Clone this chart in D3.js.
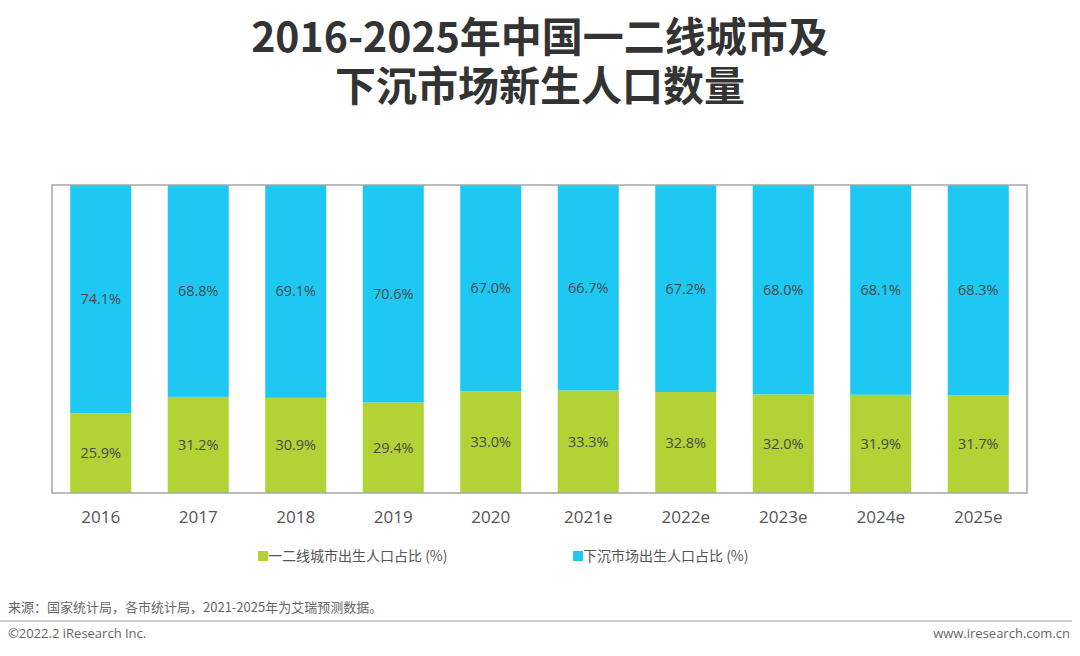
<!DOCTYPE html>
<html>
<head>
<meta charset="utf-8">
<script src="https://cdn.jsdelivr.net/npm/d3@7"></script>
<style>
  body { margin: 0; background: #fff; }
  text { font-family: "Open Sans", "Noto Sans CJK SC", sans-serif; }
</style>
</head>
<body>
<div id="container"></div>
<script>
// data
const years = ["2016", "2017", "2018", "2019", "2020", "2021e", "2022e", "2023e", "2024e", "2025e"];
const tier12 = [25.9, 31.2, 30.9, 29.4, 33.0, 33.3, 32.8, 32.0, 31.9, 31.7];
const lower = [74.1, 68.8, 69.1, 70.6, 67.0, 66.7, 67.2, 68.0, 68.1, 68.3];
const seriesNames = ["一二线城市出生人口占比 (%)", "下沉市场出生人口占比 (%)"];
const colors = ["#B2D235", "#1FC8F2"];

const width = 1080, height = 656;
const plot = { left: 52, top: 185, right: 1027, bottom: 493 };

const svg = d3.select("#container").append("svg")
    .attr("width", width)
    .attr("height", height);

// title (one text, two lines)
const titleLines = ["2016-2025年中国一二线城市及", "下沉市场新生人口数量"];
svg.append("text")
    .attr("text-anchor", "middle")
    .attr("font-size", 41).attr("font-weight", "bold").attr("fill", "#333")
    .style("font-family", "'Noto Sans CJK SC', sans-serif")
    .selectAll("tspan")
    .data(titleLines)
    .join("tspan")
    .attr("x", 540)
    .attr("y", (d, i) => 52 + i * 49)
    .text(d => d);

// scales
const x = d3.scaleBand()
    .domain(years)
    .range([plot.left, plot.right])
    .paddingInner(0.374)
    .paddingOuter(0.187);

const y = d3.scaleLinear()
    .domain([0, 100])
    .range([plot.bottom, plot.top]);

const rows = years.map((yr, i) => ({ year: yr, a: tier12[i], b: lower[i] }));
const stack = d3.stack().keys(["a", "b"])(rows);

// bars
svg.append("g").selectAll("g")
    .data(stack)
    .join("g")
    .attr("fill", (d, i) => colors[i])
    .selectAll("rect")
    .data(d => d)
    .join("rect")
    .attr("x", d => x(d.data.year))
    .attr("width", x.bandwidth())
    .attr("y", d => y(d[1]))
    .attr("height", d => y(d[0]) - y(d[1]));

// value labels
svg.append("g").selectAll("g")
    .data(stack)
    .join("g")
    .selectAll("text")
    .data(d => d)
    .join("text")
    .attr("x", d => x(d.data.year) + x.bandwidth() / 2)
    .attr("y", d => (y(d[0]) + y(d[1])) / 2)
    .attr("dy", "0.35em")
    .attr("text-anchor", "middle")
    .attr("font-size", 14.5)
    .attr("fill", "#4a4a4a")
    .text(d => (d[1] - d[0]).toFixed(1) + "%");

// frame
svg.append("rect")
    .attr("x", plot.left).attr("y", plot.top)
    .attr("width", plot.right - plot.left)
    .attr("height", plot.bottom - plot.top)
    .attr("fill", "none")
    .attr("stroke", "#a6a6a6")
    .attr("stroke-width", 1.5);

// x axis labels
const xAxis = svg.append("g")
    .attr("transform", `translate(0,${plot.bottom})`)
    .call(d3.axisBottom(x).tickSize(0).tickPadding(18));
xAxis.select(".domain").remove();
xAxis.selectAll("text")
    .attr("font-size", 17)
    .attr("fill", "#555")
    .style("font-family", "'Open Sans', sans-serif");

// legend
const legendX = [258, 573];
const legend = svg.append("g").selectAll("g")
    .data(seriesNames)
    .join("g")
    .attr("transform", (d, i) => `translate(${legendX[i]},556)`);
legend.append("rect")
    .attr("x", 0).attr("y", -5)
    .attr("width", 10).attr("height", 10)
    .attr("fill", (d, i) => colors[i]);
legend.append("text")
    .attr("x", 10).attr("dy", "0.35em")
    .attr("font-size", 14).attr("fill", "#555")
    .style("font-family", "'Noto Sans CJK SC', sans-serif")
    .text(d => d);

// footer
svg.append("text")
    .attr("x", 8).attr("y", 612)
    .attr("font-size", 13).attr("fill", "#666")
    .style("font-family", "'Noto Sans CJK SC', sans-serif")
    .text("来源：国家统计局，各市统计局，2021-2025年为艾瑞预测数据。");
svg.append("line")
    .attr("x1", 0).attr("x2", 1072)
    .attr("y1", 621).attr("y2", 621)
    .attr("stroke", "#999").attr("stroke-width", 1);
svg.append("text")
    .attr("x", 8).attr("y", 638)
    .attr("font-size", 13).attr("fill", "#666")
    .text("©2022.2 iResearch Inc.");
svg.append("text")
    .attr("x", 1070).attr("y", 638)
    .attr("text-anchor", "end")
    .attr("font-size", 13).attr("fill", "#666")
    .text("www.iresearch.com.cn");
</script>
</body>
</html>
